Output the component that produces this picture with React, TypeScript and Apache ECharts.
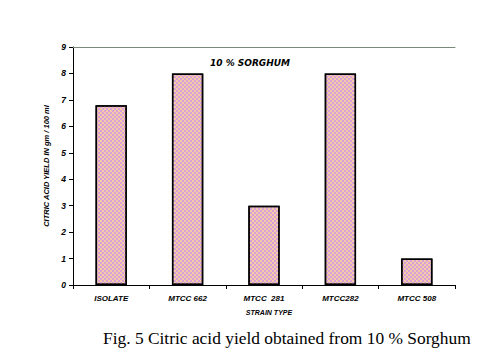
import React, { useEffect, useRef } from "react";
import * as echarts from "echarts";

const categories = ["ISOLATE", "MTCC 662", "MTCC  281", "MTCC282", "MTCC 508"];
const yieldValues = [6.8, 8.0, 3.0, 8.0, 1.0];
const chartTitle = "10 % SORGHUM";
const yAxisName = "CITRIC ACID YIELD IN gm / 100 ml";
const xAxisName = "STRAIN TYPE";
const caption = "Fig. 5 Citric acid yield obtained from 10 % Sorghum";

export default function App() {
  const ref = useRef<HTMLDivElement>(null);
  useEffect(() => {
    if (!ref.current) return;
    const chart = echarts.init(ref.current, null, { renderer: "svg" });
    const labelFont = {
      fontFamily: "Liberation Sans, Arial, sans-serif",
      fontWeight: "bold" as const,
      fontStyle: "italic" as const,
      color: "#000",
    };
    chart.setOption({
      animation: false,
      backgroundColor: "#fff",
      title: [
        {
          text: chartTitle,
          left: 205,
          top: 53,
          textStyle: {
            fontFamily: "DejaVu Sans, sans-serif",
            fontWeight: "bold",
            fontStyle: "italic",
            fontSize: 9,
            color: "#000",
          },
        },
        {
          text: xAxisName,
          left: 264,
          textAlign: "center",
          top: 304,
          textStyle: { ...labelFont, fontSize: 7 },
        },
      ],
      grid: { left: 73, right: 33, top: 47, bottom: 77 },
      xAxis: [
        {
          type: "category",
          data: categories,
          axisLine: { lineStyle: { color: "#000", width: 1 } },
          axisTick: { show: true, alignWithLabel: false, length: 4, inside: false, lineStyle: { color: "#000" } },
          axisLabel: { ...labelFont, fontSize: 8, margin: 9, interval: 0 },
        },
        {
          type: "category",
          data: categories,
          position: "top",
          axisLine: { show: true, lineStyle: { color: "#7a8a7a", width: 1 } },
          axisTick: { show: false },
          axisLabel: { show: false },
        },
      ],
      yAxis: {
        type: "value",
        min: 0,
        max: 9,
        interval: 1,
        name: yAxisName,
        nameLocation: "middle",
        nameGap: 12,
        nameRotate: 90,
        nameTextStyle: { ...labelFont, fontSize: 7.5 },
        axisLine: { show: true, lineStyle: { color: "#000", width: 1 } },
        axisTick: { show: true, length: 4, lineStyle: { color: "#000" } },
        axisLabel: { ...labelFont, fontSize: 8.5, margin: 7 },
        splitLine: { show: false },
      },
      series: [
        {
          type: "bar",
          data: yieldValues,
          barWidth: "41%",
          itemStyle: {
            color: "#f8c8a8",
            borderColor: "#000",
            borderWidth: 1.5,
            decal: {
              symbol: "rect",
              symbolSize: 1,
              color: "rgba(200,150,230,0.75)",
              dashArrayX: [[2, 2], [0, 2, 2, 0]],
              dashArrayY: [2, 0],
              rotation: 0,
            },
          },
        },
      ],
    });
    return () => chart.dispose();
  }, []);
  return (
    <div style={{ position: "absolute", left: 0, top: 0, width: 488, height: 362, background: "#fff" }}>
      <div ref={ref} style={{ width: 488, height: 362 }} />
      <div
        style={{
          position: "absolute",
          left: 103,
          top: 328,
          fontFamily: "Liberation Serif, Times New Roman, serif",
          fontSize: 17.4,
          whiteSpace: "nowrap",
          color: "#000",
        }}
      >
        {caption}
      </div>
    </div>
  );
}
